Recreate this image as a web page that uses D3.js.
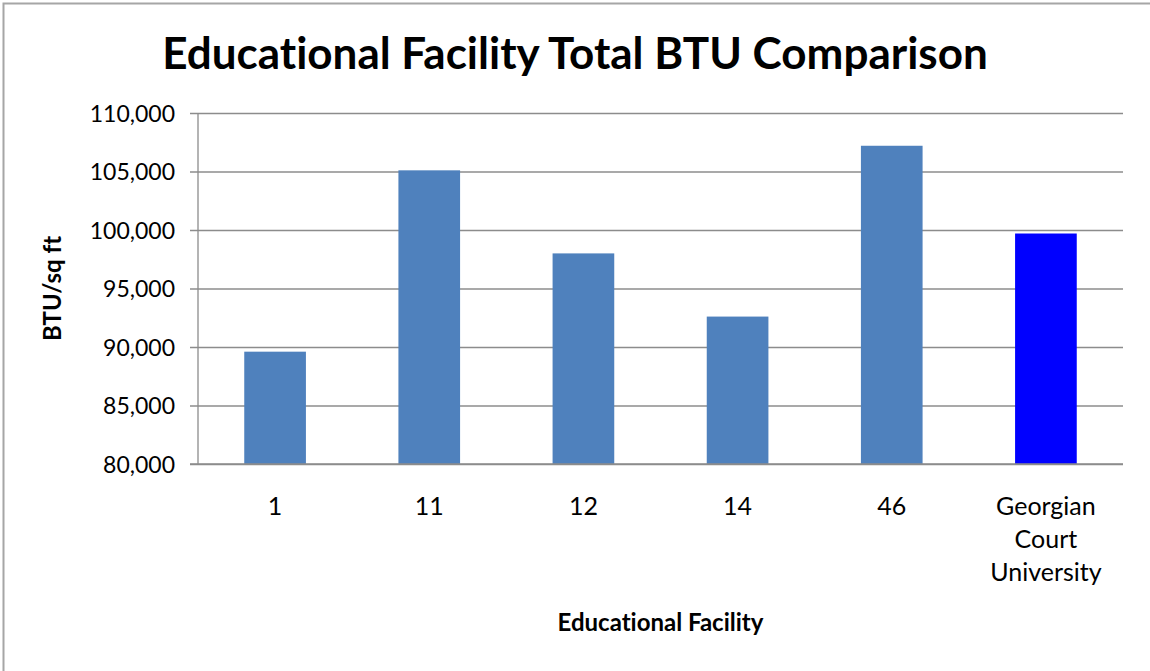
<!DOCTYPE html>
<html>
<head>
<meta charset="utf-8">
<script src="https://cdn.jsdelivr.net/npm/d3@7"></script>
<style>
  html, body { margin: 0; padding: 0; background: #ffffff; }
  svg { display: block; }
  text {
    font-family: Lato, "Open Sans", "Noto Sans", sans-serif;
    fill: #000;
    font-variant-ligatures: none;
    font-feature-settings: "liga" 0, "clig" 0;
  }
</style>
</head>
<body>
<svg id="chart" width="1150" height="671"></svg>
<script>
// Facilities and their total BTU per square foot
const facilities = ["1", "11", "12", "14", "46", "Georgian Court University"];
const btuPerSqFt = [89600, 105100, 98000, 92600, 107200, 99700];
const barColors = ["#4F81BD", "#4F81BD", "#4F81BD", "#4F81BD", "#4F81BD", "#0000FF"];
const yTicks = [80000, 85000, 90000, 95000, 100000, 105000, 110000];

const W = 1150, H = 671;
const plot = { left: 198, right: 1123, top: 113, bottom: 464 };

const svg = d3.select("#chart");

// chart frame
svg.append("rect")
  .attr("x", 3.5).attr("y", 3.5)
  .attr("width", W + 10).attr("height", H + 10)
  .attr("fill", "#fff").attr("stroke", "#a6a6a6").attr("stroke-width", 2);

const x = d3.scaleBand()
  .domain(facilities)
  .range([plot.left, plot.right])
  .paddingInner(0.6).paddingOuter(0.3);

const y = d3.scaleLinear()
  .domain([80000, 110000])
  .range([plot.bottom, plot.top]);

// horizontal gridlines with outside tick marks
const yAxis = d3.axisLeft(y)
  .tickValues(yTicks)
  .tickSize(-(plot.right - plot.left))
  .tickFormat(d3.format(","));

const gy = svg.append("g")
  .attr("transform", `translate(${plot.left},0)`)
  .call(yAxis);
gy.select(".domain").remove();
gy.selectAll(".tick line")
  .attr("x1", -8)
  .attr("stroke", "#8c8c8c").attr("stroke-width", 1.3);
gy.selectAll(".tick text")
  .attr("x", -23)
  .attr("dy", "0.36em")
  .style("font-size", "23px")
  .style("font-family", "Lato, sans-serif")
  .attr("fill", "#000");

// vertical axis line
svg.append("line")
  .attr("x1", plot.left).attr("x2", plot.left)
  .attr("y1", plot.top).attr("y2", plot.bottom)
  .attr("stroke", "#8c8c8c").attr("stroke-width", 1.3);

// bars
svg.append("g").selectAll("rect")
  .data(facilities)
  .join("rect")
  .attr("x", d => x(d))
  .attr("width", x.bandwidth())
  .attr("y", (d, i) => y(btuPerSqFt[i]))
  .attr("height", (d, i) => y(80000) - y(btuPerSqFt[i]))
  .attr("fill", (d, i) => barColors[i]);

// horizontal axis line
svg.append("line")
  .attr("x1", plot.left - 8).attr("x2", plot.right)
  .attr("y1", plot.bottom).attr("y2", plot.bottom)
  .attr("stroke", "#8c8c8c").attr("stroke-width", 1.3);

// category labels, wrapped onto lines
const catLabels = svg.append("g");
facilities.forEach(name => {
  const words = name.split(" ");
  const t = catLabels.append("text")
    .attr("x", x(name) + x.bandwidth() / 2)
    .attr("y", 515)
    .attr("text-anchor", "middle")
    .style("font-size", "25px");
  words.forEach((w, i) => {
    t.append("tspan")
      .attr("x", x(name) + x.bandwidth() / 2)
      .attr("dy", i === 0 ? 0 : 33)
      .text(w);
  });
});

// chart title
svg.append("text")
  .attr("x", W / 2)
  .attr("y", 69)
  .attr("text-anchor", "middle")
  .style("font-size", "44px")
  .style("font-weight", "bold")
  .text("Educational Facility Total BTU Comparison");

// axis titles
svg.append("text")
  .attr("x", (plot.left + plot.right) / 2)
  .attr("y", 631)
  .attr("text-anchor", "middle")
  .style("font-size", "24px")
  .style("font-weight", "bold")
  .text("Educational Facility");

svg.append("text")
  .attr("transform", `translate(61,${(plot.top + plot.bottom) / 2}) rotate(-90)`)
  .attr("text-anchor", "middle")
  .style("font-size", "24px")
  .style("font-weight", "bold")
  .text("BTU/sq ft");
</script>
</body>
</html>
